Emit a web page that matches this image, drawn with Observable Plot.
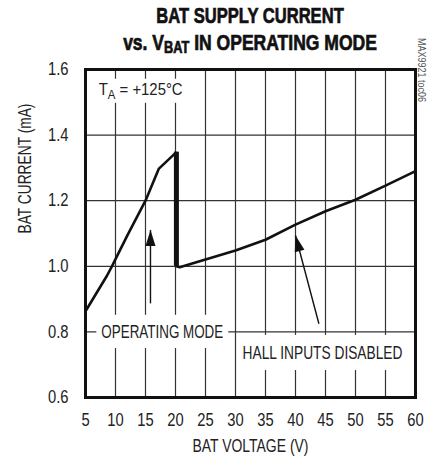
<!DOCTYPE html>
<html><head><meta charset="utf-8">
<script src="https://cdn.jsdelivr.net/npm/d3@7"></script>
<script src="https://cdn.jsdelivr.net/npm/@observablehq/plot@0.6"></script>
<style>
body{margin:0;background:#fff;}
#chart{width:438px;height:457px;}
</style></head><body><div id="chart"></div>
<script>
// Measured curve: BAT current (mA) vs BAT voltage (V)
const voltage = [5, 8.6, 9.4, 12, 15, 17.2, 20.15, 20.15, 20.7, 25, 30, 35, 40, 45, 50, 55, 60];
const current = [0.863, 0.972, 1.0, 1.095, 1.2, 1.297, 1.348, 1.0, 0.997, 1.021, 1.048, 1.081, 1.127, 1.168, 1.203, 1.246, 1.29];
// thick switching edge
const dropVoltage = [20.15];
const dropTop = [1.348];
const dropBottom = [1.0];
const xTicks = [5, 10, 15, 20, 25, 30, 35, 40, 45, 50, 55, 60];
const yTicks = [0.6, 0.8, 1.0, 1.2, 1.4, 1.6];
// annotations
const arrowLabels = ["OPERATING MODE", "HALL INPUTS DISABLED"];
const labelV = [17.8, 44.5];
const labelI = [0.8, 0.736];
const arrowBaseV = [15.83, 43.9];
const arrowBaseI = [0.887, 0.825];
const arrowTipV = [15.83, 40.0];
const arrowTipI = [1.111, 1.094];
const tempLabel = ["TA = +125°C"];
const tempV = [7.2];
const tempI = [1.54];
const titleLines = ["BAT SUPPLY CURRENT", "vs. V", "BAT", " IN OPERATING MODE"];
const xLabel = "BAT VOLTAGE (V)";
const yLabel = "BAT CURRENT (mA)";
const partCode = "MAX9921 toc06";

const W = 438, H = 457, mT = 69, mB = 60, mL = 85, mR = 23;
const pxPerV = (W - mL - mR) / (60 - 5);
const pxPerI = (H - mT - mB) / (1.6 - 0.6);
const arrowAngle = arrowTipV.map((v, i) =>
  Math.atan2((v - arrowBaseV[i]) * pxPerV, (arrowTipI[i] - arrowBaseI[i]) * pxPerI) * 180 / Math.PI);
const arrowHead = {draw(ctx) { ctx.moveTo(0, 0); ctx.lineTo(-5, 16); ctx.lineTo(5, 16); ctx.closePath(); }};

const FONT = '"Liberation Sans", Arial, Helvetica, sans-serif';
const NARROW = 0.82;

const chart = Plot.plot({
  width: W, height: H,
  marginTop: mT, marginBottom: mB, marginLeft: mL, marginRight: mR,
  style: {fontFamily: FONT, fontSize: "18px", color: "#222", background: "#fff"},
  x: {domain: [5, 60], ticks: xTicks, tickSize: 0, tickPadding: 16, tickFormat: d3.format("d"), label: null},
  y: {domain: [0.6, 1.6], ticks: yTicks, tickSize: 0, tickPadding: 17, tickFormat: d3.format(".1f"), label: null},
  marks: [
    Plot.ruleX(xTicks, {stroke: "#333", strokeWidth: 1.2}),
    Plot.ruleY(yTicks, {stroke: "#333", strokeWidth: 1.2}),
    Plot.text(tempLabel, {x: tempV, y: tempI, text: d => d, textAnchor: "start", fontSize: 17, fill: "#222"}),
    Plot.text(arrowLabels, {x: labelV, y: labelI, text: d => d, fontSize: 18, fill: "#222"}),
    Plot.link(arrowLabels, {x1: arrowBaseV, y1: arrowBaseI, x2: arrowTipV, y2: arrowTipI, stroke: "#111", strokeWidth: 1.4}),
    Plot.dot(arrowLabels, {x: arrowTipV, y: arrowTipI, symbol: arrowHead, rotate: arrowAngle, fill: "#111", stroke: "none", r: 5}),
    Plot.line(voltage.map((v, i) => ({v, c: current[i]})), {x: "v", y: "c", stroke: "#111", strokeWidth: 2.6, strokeLinejoin: "miter"}),
    Plot.ruleX(dropVoltage, {x: d => d, y1: dropBottom, y2: dropTop, stroke: "#111", strokeWidth: 5}),
    Plot.frame({stroke: "#111", strokeWidth: 3}),
    Plot.text([xLabel], {frameAnchor: "bottom", dy: 54, text: d => d, fontSize: 18, fill: "#222"}),
    Plot.text([yLabel], {frameAnchor: "left", dx: -60, rotate: -90, text: d => d, fontSize: 18, fill: "#222"})
  ]
});
document.getElementById("chart").appendChild(chart);

const svg = d3.select(chart);
function squeeze(el, s) {
  const x = el.getAttribute("x");
  if (x !== null && !isNaN(+x)) el.setAttribute("x", +x / s);
  const t = el.getAttribute("transform") || "";
  el.setAttribute("transform", (t + ` scale(${s},1)`).trim());
}
// target widths (px)
const targetWidth = {"TA = +125°C": 84, "OPERATING MODE": 122, "HALL INPUTS DISABLED": 160, [xLabel]: 116, [yLabel]: 130};
const pads = {"TA = +125°C": [2, 1], "OPERATING MODE": [5, 7], "HALL INPUTS DISABLED": [5, 8]};

svg.selectAll("text").each(function() {
  if (this.textContent === tempLabel[0]) {
    const sel = d3.select(this);
    sel.text(null);
    sel.append("tspan").text("T");
    sel.append("tspan").attr("font-size", 13).attr("dy", 4).text("A");
    sel.append("tspan").attr("dy", -4).text(" = +125°C");
  }
});
svg.selectAll("text").each(function() {
  const t = this.textContent;
  const w = this.getBBox().width;
  squeeze(this, targetWidth[t] ? targetWidth[t] / w : NARROW);
  if (pads[t]) {
    const b = this.getBBox();
    const [px, py] = pads[t];
    const s = targetWidth[t] / w;
    d3.select(this.parentNode).insert("rect", () => this)
      .attr("x", b.x - px / s).attr("y", b.y - py)
      .attr("width", b.width + 2 * px / s).attr("height", b.height + 2 * py)
      .attr("fill", "#fff").attr("transform", this.getAttribute("transform"));
  }
});
// title
function titleLine(y, parts, target) {
  const t = svg.append("text").attr("text-anchor", "middle").attr("font-family", FONT)
    .attr("font-weight", "bold").attr("fill", "#111").attr("stroke", "#111").attr("stroke-width", 0.7);
  parts.forEach(([txt, fs, dy]) => t.append("tspan").attr("font-size", fs).attr("dy", dy).text(txt));
  const w = t.node().getBBox().width;
  t.attr("transform", `translate(250,${y}) scale(${target / w},1)`);
}
titleLine(23, [[titleLines[0], 22, 0]], 188);
titleLine(50, [[titleLines[1], 22, 0], [titleLines[2], 16, 3], [titleLines[3], 22, -3]], 254);
// part code
svg.append("text").attr("transform", "translate(418,70) rotate(90) scale(0.9,1)").attr("font-family", FONT)
  .attr("font-size", 10).attr("fill", "#555").text(partCode);
</script></body></html>
